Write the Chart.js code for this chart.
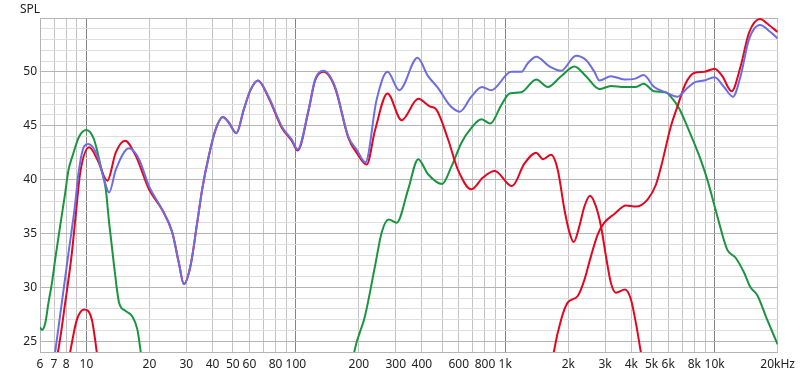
<!DOCTYPE html>
<html>
<head>
<meta charset="utf-8">
<script src="https://cdn.jsdelivr.net/npm/chart.js@4/dist/chart.umd.min.js"></script>
<style>
    body { margin: 0; background: #ffffff; }
    #wrap { position: relative; width: 800px; height: 377px; }
</style>
</head>
<body>
<div id="wrap"><canvas id="spl-chart"></canvas></div>
<script>
// Axis ticks
const xGridValues = [6, 7, 8, 9, 10, 20, 30, 40, 50, 60, 70, 80, 90, 100, 200, 300, 400, 500, 600, 700, 800, 900,
    1000, 2000, 3000, 4000, 5000, 6000, 7000, 8000, 9000, 10000, 20000];
const xLabelValues = [6, 7, 8, 10, 20, 30, 40, 50, 60, 80, 100, 200, 300, 400, 600, 800, 1000, 2000, 3000, 4000, 5000, 6000, 8000, 10000, 20000];
const xLabelText = ['6', '7', '8', '10', '20', '30', '40', '50', '60', '80', '100', '200', '300', '400', '600', '800',
    '1k', '2k', '3k', '4k', '5k', '6k', '8k', '10k', '20kHz'];
const yLabelValues = [25, 30, 35, 40, 45, 50];
const yMin = 24;
const yMax = 55;

// Blue (sum) curve
const blueFreq = [6.95, 7.09, 7.63, 8.21, 8.84, 9.16, 9.75, 10.2, 11.28, 12.14, 12.83, 13.8, 15.97, 17.82, 19.89, 23.0, 25.7, 27.6, 29.2, 31.4,
    33.8, 35.7, 38.4, 41.3, 44.8, 47.8, 52.0, 56.4, 60.7, 65.9, 74.1, 85.8, 95.7, 102, 115, 123.6, 135.5, 154, 178, 195,
    215, 243, 274, 312, 381, 428, 478, 543, 607, 689, 774, 858, 1068, 1191, 1282, 1406, 1627, 1848, 2178, 2430,
    2667, 2818, 3197, 3704, 4131, 4576, 5145, 5845, 6645, 7413, 7979, 8903, 10000, 11086, 12236, 13300, 14580, 16450, 18480, 20000];
const blueSpl = [22.8, 24.0, 28.6, 33.2, 37.8, 40.6, 43.1, 43.3, 42.2, 40.0, 38.8, 40.9, 42.9, 41.9, 39.4, 37.2, 35.1, 32.3, 30.3, 32.0,
    36.0, 39.1, 42.2, 44.6, 45.8, 45.3, 44.3, 46.5, 48.3, 49.2, 47.7, 44.9, 43.7, 42.8, 46.5, 49.3, 50.1, 48.6, 44.0, 42.8,
    41.6, 47.4, 50.0, 48.3, 51.3, 49.6, 48.5, 46.9, 46.3, 47.7, 48.6, 48.3, 50.0, 50.0, 50.8, 51.4, 50.5, 50.1, 51.5, 51.1,
    50.0, 49.2, 49.6, 49.3, 49.35, 49.7, 48.6, 48.1, 47.7, 48.5, 49.0, 49.2, 49.5, 48.6, 47.7, 49.6, 53.0, 54.35, 53.7, 53.1];

// Red curves
const redFreqA = [6.9, 7.31, 7.92, 8.52, 9.0, 9.33, 10.3, 11.28, 12.59, 13.8, 15.28, 17.2, 19.89, 23.0, 25.7, 27.6, 29.2, 31.4, 33.8, 35.7,
    38.4, 41.3, 44.8, 47.8, 52.0, 56.4, 60.7, 65.9, 74.1, 85.8, 95.7, 102, 115, 123.6, 135.5, 154, 178, 195, 218, 239,
    274, 320, 384, 436, 469, 534, 595, 689, 783, 891, 1077, 1236, 1406, 1513, 1656, 1782, 1918, 2026, 2124, 2261,
    2388, 2540, 2713, 2865, 3027, 3197, 3378, 3727, 3981, 4206, 4443, 4650];
const redSplA = [22.0, 24.0, 28.6, 33.2, 37.8, 40.6, 43.0, 41.85, 39.9, 42.5, 43.6, 42.2, 39.1, 37.2, 35.1, 32.3, 30.3, 32.0, 36.0, 39.1,
    42.2, 44.6, 45.8, 45.3, 44.3, 46.5, 48.3, 49.2, 47.6, 44.8, 43.6, 42.7, 46.4, 49.2, 50.0, 48.5, 43.9, 42.5, 41.4, 44.6,
    48.0, 45.5, 47.5, 46.8, 46.5, 43.7, 40.9, 39.1, 40.2, 40.8, 39.4, 41.5, 42.5, 41.9, 42.3, 40.9, 37.2, 35.1, 34.2, 35.7,
    37.5, 38.5, 37.5, 35.7, 32.9, 30.4, 29.5, 29.8, 28.9, 26.7, 24.0, 22.0];
const redFreqB = [8.0, 8.36, 9.0, 9.75, 10.61, 11.2, 11.5];
const redSplB = [22.0, 24.0, 27.0, 27.95, 27.0, 24.0, 22.0];
const redFreqC = [1650, 1706, 1848, 1990, 2220, 2388, 2568, 2763, 2973, 3319, 3770, 4207, 4780, 5236, 5550, 6172, 6645, 7278, 7979, 8903,
    10000, 10880, 12050, 13300, 14580, 16450, 18160, 20000];
const redSplC = [22.0, 24.0, 27.0, 28.6, 29.2, 30.7, 32.9, 34.9, 36.0, 36.8, 37.6, 37.5, 38.15, 39.5, 41.2, 44.9, 46.8, 48.95, 49.9, 50.0,
    50.3, 49.6, 48.2, 50.5, 53.6, 54.9, 54.35, 53.7];

// Green curves
const greenFreqA = [6.0, 6.13, 6.36, 6.59, 6.84, 7.09, 7.49, 7.92, 8.21, 8.58, 9.23, 10.0, 10.88, 11.71, 12.37, 12.83, 13.55, 14.31, 15.4, 16.56,
    17.5, 18.16, 18.6];
const greenSplA = [26.3, 26.05, 26.7, 28.6, 30.4, 32.6, 35.7, 38.8, 40.9, 42.2, 44.0, 44.6, 43.7, 41.2, 39.1, 36.0, 32.0, 28.6, 27.8, 27.3,
    26.1, 24.0, 22.5];
const greenFreqB = [185, 190, 214, 239, 257, 278, 303, 344, 384, 428, 500, 553, 617, 689, 769, 848, 957, 1050, 1191, 1406,
    1597, 1848, 2140, 2430, 2818, 3197, 3704, 4207, 4576, 5145, 5845, 6172, 6770, 7413, 7979, 8576, 9227, 10300, 11480, 12590,
    13800, 14830, 15960, 17820, 20000];
const greenSplB = [22.5, 24.0, 27.35, 32.0, 35.1, 36.3, 36.0, 39.1, 41.9, 40.5, 39.6, 41.2, 43.4, 44.8, 45.6, 45.2, 46.9, 48.0, 48.1, 49.3,
    48.6, 49.6, 50.5, 49.6, 48.4, 48.7, 48.6, 48.6, 48.9, 48.2, 48.1, 47.7, 46.6, 44.9, 43.4, 41.85, 40.0, 36.6, 33.5, 32.75,
    31.4, 30.0, 29.3, 27.0, 24.7];

const BLUE = '#6c6ce4';
const RED = '#e2061f';
const GREEN = '#1b9440';

function toPoints(freqs, values) {
    return freqs.map((f, i) => ({ x: f, y: values[i] }));
}

function curve(freqs, values, color) {
    return {
        data: toPoints(freqs, values),
        borderColor: color,
        borderWidth: 2,
        pointRadius: 0,
        cubicInterpolationMode: 'monotone',
        fill: false
    };
}

// Draws the "SPL" caption over the y axis
const splLabel = {
    id: 'splLabel',
    afterDraw(chart) {
        const ctx = chart.ctx;
        ctx.save();
        ctx.font = '12px "Noto Sans"';
        ctx.fillStyle = '#222222';
        ctx.textBaseline = 'alphabetic';
        ctx.textAlign = 'left';
        ctx.fillText('SPL', 20, 13);
        ctx.restore();
    }
};

// blue first so it is drawn on top
new Chart(document.getElementById('spl-chart'), {
    type: 'line',
    data: {
        datasets: [
            curve(blueFreq, blueSpl, BLUE),
            curve(redFreqA, redSplA, RED),
            curve(redFreqB, redSplB, RED),
            curve(redFreqC, redSplC, RED),
            curve(greenFreqA, greenSplA, GREEN),
            curve(greenFreqB, greenSplB, GREEN)
        ]
    },
    options: {
        responsive: true,
        maintainAspectRatio: false,
        animation: false,
        layout: { padding: { top: 18, right: 20, left: 0, bottom: 0 } },
        plugins: {
            legend: { display: false },
            tooltip: { enabled: false }
        },
        scales: {
            x: {
                type: 'logarithmic',
                min: 6,
                max: 20000,
                afterBuildTicks: (scale) => {
                    scale.ticks = xGridValues.map(v => ({ value: v }));
                },
                afterFit: (scale) => { scale.height = 25; },
                grid: {
                    drawTicks: false,
                    color: (ctx) => {
                        const v = ctx.tick ? ctx.tick.value : 0;
                        const l = Math.log10(v);
                        return Math.abs(l - Math.round(l)) < 1e-6 ? '#858585' : '#c4c4c4';
                    },
                    lineWidth: 1
                },
                border: { color: '#b4b4b4' },
                ticks: {
                    autoSkip: false,
                    maxRotation: 0,
                    minRotation: 0,
                    padding: 5,
                    color: '#222222',
                    font: { family: '"Noto Sans"', size: 12 },
                    callback: (value) => {
                        const i = xLabelValues.indexOf(value);
                        return i >= 0 ? xLabelText[i] : '';
                    }
                }
            },
            y: {
                min: yMin,
                max: yMax,
                afterFit: (scale) => { scale.width = 40; },
                grid: {
                    drawTicks: false,
                    color: (ctx) => (ctx.tick && ctx.tick.value % 5 === 0) ? '#b4b4b4' : '#dedede',
                    lineWidth: 1
                },
                border: { color: '#b4b4b4' },
                ticks: {
                    stepSize: 1,
                    autoSkip: false,
                    padding: 3,
                    color: '#222222',
                    font: { family: '"Noto Sans"', size: 12 },
                    callback: (value) => yLabelValues.includes(value) ? String(value) : ''
                }
            }
        }
    },
    plugins: [splLabel]
});
</script>
</body>
</html>
